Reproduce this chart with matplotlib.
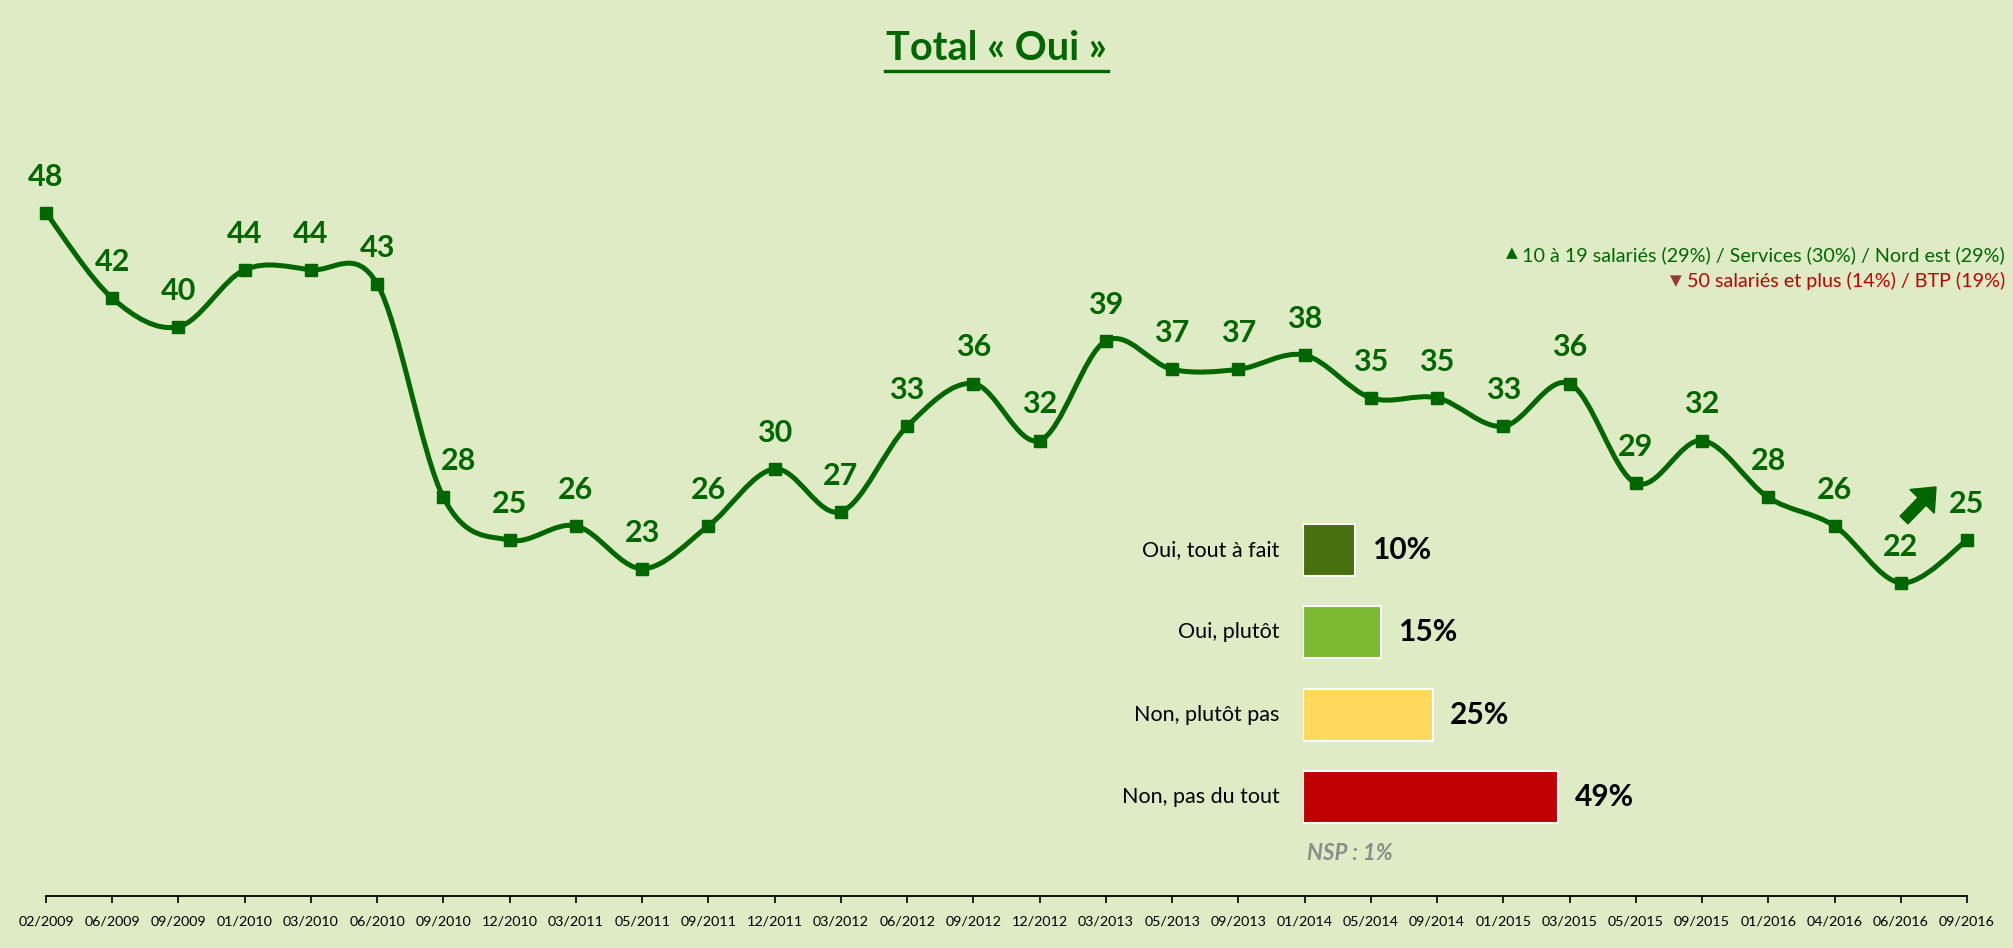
import matplotlib
matplotlib.use("Agg")
import matplotlib.pyplot as plt
from matplotlib.path import Path
from matplotlib.patches import PathPatch, FancyArrow
from matplotlib.transforms import IdentityTransform
import numpy as np

# data
dates = ["02/2009", "06/2009", "09/2009", "01/2010", "03/2010", "06/2010", "09/2010",
         "12/2010", "03/2011", "05/2011", "09/2011", "12/2011", "03/2012", "06/2012",
         "09/2012", "12/2012", "03/2013", "05/2013", "09/2013", "01/2014", "05/2014",
         "09/2014", "01/2015", "03/2015", "05/2015", "09/2015", "01/2016", "04/2016",
         "06/2016", "09/2016"]
oui = [48, 42, 40, 44, 44, 43, 28, 25, 26, 23, 26, 30, 27, 33, 36, 32, 39, 37, 37, 38,
       35, 35, 33, 36, 29, 32, 28, 26, 22, 25]

answers = ["Oui, tout à fait", "Oui, plutôt", "Non, plutôt pas", "Non, pas du tout"]
answer_pct = [10, 15, 25, 49]
answer_colors = ["#48700F", "#7DB933", "#FFD95C", "#C00000"]
nsp = 1

notes_up = "10 à 19 salariés (29%) / Services (30%) / Nord est (29%)"
notes_down = "50 salariés et plus (14%) / BTP (19%)"

BG = "#DEEBC4"
GREEN = "#006600"
W, H = 2013, 948

plt.rcParams["font.family"] = ["Lato", "DejaVu Sans"]

fig = plt.figure(figsize=(W / 100, H / 100), dpi=100, facecolor=BG)


def fx(px):
    return px / W


def fy(py):
    return 1 - py / H


ax = fig.add_axes([fx(46), fy(896), fx(1967) - fx(46), fy(42) - fy(896)])
ax.set_facecolor(BG)
ax.patch.set_alpha(0)
x = np.arange(len(oui))
y = np.array(oui, dtype=float)

# smoothed line (catmull-rom bezier, like excel smoothing)
verts = [(x[0], y[0])]
codes = [Path.MOVETO]
n = len(x)
for i in range(n - 1):
    p0 = np.array([x[max(i - 1, 0)], y[max(i - 1, 0)]])
    p1 = np.array([x[i], y[i]])
    p2 = np.array([x[i + 1], y[i + 1]])
    p3 = np.array([x[min(i + 2, n - 1)], y[min(i + 2, n - 1)]])
    c1 = p1 + (p2 - p0) / 6
    c2 = p2 - (p3 - p1) / 6
    verts += [tuple(c1), tuple(c2), tuple(p2)]
    codes += [Path.CURVE4] * 3
ax.add_patch(PathPatch(Path(verts, codes), fill=False, edgecolor=GREEN, lw=3.6,
                       capstyle="round", joinstyle="round", zorder=2, clip_on=False))
ax.plot(x, y, ls="none", marker="s", ms=8.5, color=GREEN, zorder=3, clip_on=False)

label_dx = {6: 11}
for i, v in enumerate(oui):
    ax.annotate(str(v), (x[i], v), xytext=(label_dx.get(i, 0), 26),
                textcoords="offset points", ha="center", va="center",
                fontsize=22, fontweight="bold", color=GREEN)

ax.set_xlim(0, n - 1)
ax.set_ylim(0, 60)
ax.set_xticks(x)
ax.set_xticklabels(dates, fontsize=10.3)
ax.set_yticks([])
for s in ["top", "right", "left"]:
    ax.spines[s].set_visible(False)
ax.spines["bottom"].set_linewidth(1.3)
ax.tick_params(axis="x", direction="out", length=5, width=1.2, pad=9)

# title
fig.text(fx(996), fy(49), "Total « Oui »", ha="center", va="center", fontsize=28.5,
         fontweight="bold", color=GREEN)
fig.add_artist(plt.Line2D([fx(885), fx(1108)], [fy(71), fy(71)], color=GREEN, lw=2.4))

# notes top right
t1 = fig.text(fx(2005), fy(255), notes_up, ha="right", va="center", fontsize=14.2,
              color=GREEN)
t2 = fig.text(fx(2005), fy(281), notes_down, ha="right", va="center", fontsize=14.2,
              color="#C00000")
fig.canvas.draw()
r = fig.canvas.get_renderer()
b1 = t1.get_window_extent(r)
b2 = t2.get_window_extent(r)
fig.text(fx(b1.x0 - 5), fy(253), "▲", ha="right", va="center", fontsize=11, color=GREEN,
         family="DejaVu Sans")
fig.text(fx(b2.x0 - 5), fy(281), "▼", ha="right", va="center", fontsize=11,
         color="#953735", family="DejaVu Sans")

# bars of last wave
bx = fig.add_axes([fx(1303), fy(838), fx(1823) - fx(1303), fy(509) - fy(838)])
bx.patch.set_alpha(0)
yy = np.arange(len(answers))
bx.barh(yy, answer_pct, height=0.63, color=answer_colors, edgecolor="white", lw=1.5)
bx.set_xlim(0, 100)
bx.set_ylim(len(answers) - 0.5, -0.5)
bx.axis("off")
for i, v in enumerate(answer_pct):
    bx.annotate(f"{v}%", (v, i), xytext=(12, 0), textcoords="offset points",
                ha="left", va="center", fontsize=21.5, fontweight="bold", color="black")
    bx.annotate(answers[i], (0, i), xytext=(-17, 0), textcoords="offset points",
                ha="right", va="center", fontsize=15.5, color="black")
fig.text(fx(1307), fy(854), f"NSP : {nsp}%", ha="left", va="center", fontsize=16,
         fontweight="bold", fontstyle="italic", color="#8C8C8C")

# trend arrow
fig.patches.append(FancyArrow(1904, H - 520, 32, 33, width=11, head_width=34,
                              head_length=20, length_includes_head=True,
                              color=GREEN, transform=IdentityTransform()))

fig.savefig("out.png", dpi=100, facecolor=BG)
